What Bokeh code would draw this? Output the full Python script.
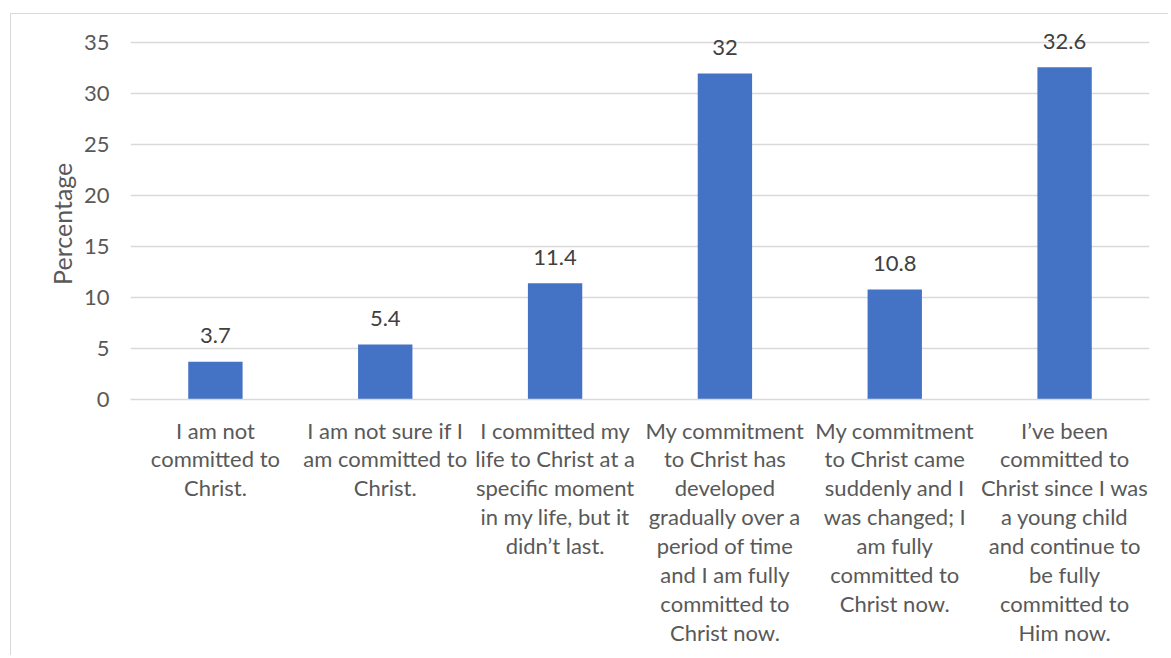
from bokeh.plotting import figure
from bokeh.models import ColumnDataSource, FixedTicker, Range1d, FactorRange
from bokeh.core.properties import value
from bokeh.embed import file_html
from bokeh.resources import INLINE

categories = [
    "I am not\ncommitted to\nChrist.",
    "I am not sure if I\nam committed to\nChrist.",
    "I committed my\nlife to Christ at a\nspecific moment\nin my life, but it\ndidn\u2019t last.",
    "My commitment\nto Christ has\ndeveloped\ngradually over a\nperiod of time\nand I am fully\ncommitted to\nChrist now.",
    "My commitment\nto Christ came\nsuddenly and I\nwas changed; I\nam fully\ncommitted to\nChrist now.",
    "I\u2019ve been\ncommitted to\nChrist since I was\na young child\nand continue to\nbe fully\ncommitted to\nHim now.",
]
percentages = [3.7, 5.4, 11.4, 32, 10.8, 32.6]
value_labels = ["3.7", "5.4", "11.4", "32", "10.8", "32.6"]
y_ticks = [0, 5, 10, 15, 20, 25, 30, 35]

FONT = "Lato"
src = ColumnDataSource(dict(cat=categories, val=percentages, lab=value_labels))

p = figure(
    width=1158, height=642,
    x_range=FactorRange(*categories, range_padding=0),
    y_range=Range1d(0, 37),
    output_backend="svg", toolbar_location=None,
    min_border_left=119, min_border_right=20,
    min_border_top=8, min_border_bottom=257,
)
p.styles = {"margin-left": "10px", "margin-top": "13px",
            "border-left": "1.5px solid #d9d9d9", "border-top": "1.5px solid #d9d9d9"}
p.outline_line_color = None
p.background_fill_color = "white"
p.border_fill_color = "white"

p.vbar(x="cat", top="val", width=0.32, source=src, color="#4472C4", line_color=None)
p.text(x="cat", y="val", text="lab", source=src, y_offset=-26,
       text_align="center", text_baseline="middle",
       text_font=value(FONT), text_font_size="22px", text_color="#404040")

p.yaxis.ticker = FixedTicker(ticks=y_ticks)
p.yaxis.axis_line_color = None
p.yaxis.major_tick_line_color = None
p.yaxis.minor_tick_line_color = None
p.yaxis.major_label_standoff = 15
p.yaxis.major_label_text_font = FONT
p.yaxis.major_label_text_font_size = "22px"
p.yaxis.major_label_text_color = "#595959"
p.yaxis.axis_label = "Percentage\u00a0\u00a0\u00a0\u00a0"
p.yaxis.axis_label_text_font = FONT
p.yaxis.axis_label_text_font_size = "25px"
p.yaxis.axis_label_text_font_style = "normal"
p.yaxis.axis_label_text_color = "#595959"
p.yaxis.axis_label_standoff = 4

p.xaxis.axis_line_color = "#d9d9d9"
p.xaxis.axis_line_width = 1.5
p.xaxis.major_tick_line_color = None
p.xaxis.minor_tick_line_color = None
p.xaxis.major_label_standoff = 11
p.xaxis.major_label_text_font = FONT
p.xaxis.major_label_text_font_size = "22px"
p.xaxis.major_label_text_color = "#595959"
p.xaxis.major_label_text_line_height = 1.07
p.xaxis.major_label_orientation = "horizontal"

p.xgrid.grid_line_color = None
p.ygrid.grid_line_color = "#d9d9d9"
p.ygrid.grid_line_width = 1.3

open("out.html", "w").write(file_html(p, INLINE))
